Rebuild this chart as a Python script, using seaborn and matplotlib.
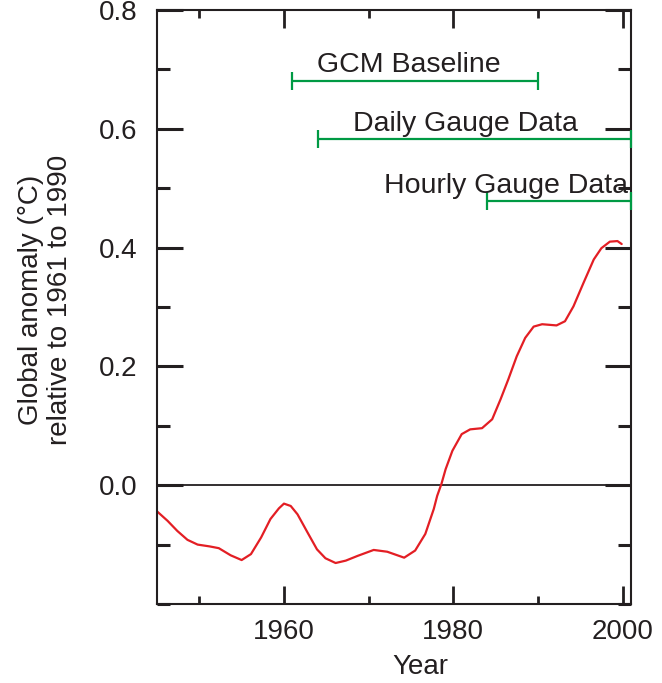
import matplotlib
matplotlib.use("Agg")
import matplotlib.pyplot as plt
import seaborn as sns
import pandas as pd
from matplotlib.ticker import MultipleLocator

# Smoothed global anomaly curve
years = [1945.0, 1946.25, 1947.4, 1948.6, 1949.8, 1951.2, 1952.3, 1953.7, 1955.0,
         1956.1, 1957.3, 1958.4, 1959.4, 1960.0, 1960.8, 1961.6, 1962.8, 1963.9,
         1964.9, 1966.1, 1967.3, 1968.7, 1970.6, 1972.2, 1974.2, 1975.5, 1976.7,
         1977.7, 1978.1, 1978.6, 1979.1, 1979.9, 1981.0, 1982.0, 1983.4, 1984.6,
         1985.6, 1986.5, 1987.5, 1988.5, 1989.5, 1990.5, 1992.2, 1993.2, 1994.2,
         1995.4, 1996.6, 1997.5, 1998.5, 1999.4, 1999.9]
anomaly = [-0.044, -0.060, -0.077, -0.092, -0.100, -0.103, -0.106, -0.118, -0.126,
           -0.116, -0.088, -0.057, -0.039, -0.031, -0.035, -0.049, -0.080, -0.108,
           -0.123, -0.131, -0.127, -0.119, -0.109, -0.112, -0.122, -0.110, -0.082,
           -0.040, -0.018, 0.002, 0.027, 0.058, 0.086, 0.094, 0.096, 0.111,
           0.145, 0.178, 0.217, 0.248, 0.267, 0.271, 0.269, 0.276, 0.301,
           0.341, 0.380, 0.399, 0.410, 0.411, 0.406]

# Data period bars
period_labels = ["GCM Baseline", "Daily Gauge Data", "Hourly Gauge Data"]
period_start = [1961, 1964, 1984]
period_end = [1990, 2001, 2001]
period_level = [0.681, 0.583, 0.479]
label_x = [1974.7, 1981.4, 1986.2]
label_y = [0.696, 0.597, 0.492]

x_major = [1960, 1980, 2000]
y_major = [0.0, 0.2, 0.4, 0.6, 0.8]

sns.set_style("ticks")
plt.rcParams['font.family'] = ['Liberation Sans', 'DejaVu Sans']
ink = "#231f20"
red = "#e31e24"
green = "#009a44"

fig = plt.figure(figsize=(6.62, 6.83), dpi=100)
ax = fig.add_axes([157/662, 1 - 604/683, (631-157)/662, (604-10)/683])

df = pd.DataFrame({"Year": years, "Anomaly": anomaly})
sns.lineplot(data=df, x="Year", y="Anomaly", ax=ax, color=red, linewidth=1.6)

ax.axhline(0, color=ink, linewidth=1.3, zorder=1)

for s, e, lvl in zip(period_start, period_end, period_level):
    ax.errorbar([(s + e) / 2], [lvl], xerr=[(e - s) / 2], color=green,
                linewidth=1.6, capsize=6.5, capthick=1.6, clip_on=False, zorder=3)
for t, x, y in zip(period_labels, label_x, label_y):
    ax.text(x, y, t, ha="center", va="baseline", fontsize=20.5, color=ink)

ax.set_xlim(1945, 2001)
ax.set_ylim(-0.2, 0.8)
ax.set_xticks(x_major)
ax.set_yticks(y_major)
ax.set_yticklabels([f"{v:.1f}" for v in y_major])
ax.xaxis.set_minor_locator(MultipleLocator(10))
ax.yaxis.set_minor_locator(MultipleLocator(0.1))

ax.tick_params(which="both", direction="in", top=True, right=True, colors=ink,
               labelsize=20, labelcolor=ink)
ax.tick_params(axis="y", which="major", length=19, width=2.2, pad=14)
ax.tick_params(axis="y", which="minor", length=9.5, width=2.2)
ax.tick_params(axis="x", which="major", length=13, width=2, pad=11)
ax.tick_params(axis="x", which="minor", length=6, width=2)

for sp in ax.spines.values():
    sp.set_visible(True)
    sp.set_color(ink)
    sp.set_linewidth(1.5)

ax.set_xlabel("Year", fontsize=20, color=ink)
ax.set_ylabel("Global anomaly (\u00b0C)\nrelative to 1961 to 1990", fontsize=20,
              color=ink, linespacing=1.15)
ax.xaxis.set_label_coords(0.555, -0.085)
ax.yaxis.set_label_coords(-0.178, 0.512)

fig.savefig("out.png", dpi=100)
